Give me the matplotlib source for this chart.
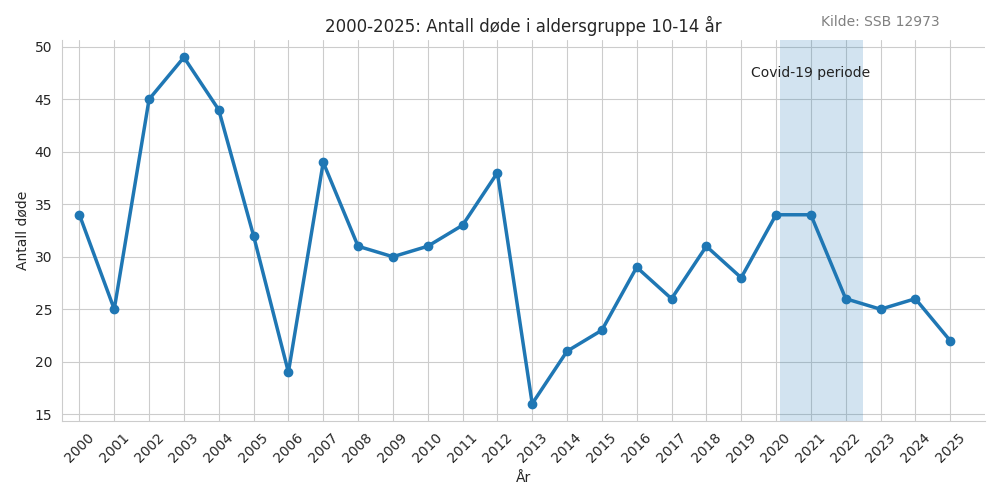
import matplotlib
matplotlib.use("Agg")
import matplotlib.pyplot as plt
import seaborn as sns

years = list(range(2000, 2026))
deaths = [34, 25, 45, 49, 44, 32, 19, 39, 31, 30, 31, 33, 38, 16, 21, 23, 29, 26, 31, 28, 34, 34, 26, 25, 26, 22]
covid_start, covid_end = 2020.1, 2022.5

sns.set_style("whitegrid")
fig = plt.figure(figsize=(10, 5), dpi=100)
ax = fig.add_axes([0.062, 0.158, 0.923, 0.762])

ax.plot(years, deaths, marker="o", color="#1f77b4", linewidth=2.5, markersize=6)
ax.axvspan(covid_start, covid_end, color="#1f77b4", alpha=0.2, linewidth=0)
ax.text(2021, 47.5, "Covid-19 periode", ha="center", va="center", fontsize=10, color="#222222")

ax.set_xlim(1999.5, 2026)
ax.set_xticks(years)
ax.set_xticklabels([str(y) for y in years], rotation=45)
ax.set_title("2000-2025: Antall døde i aldersgruppe 10-14 år", fontsize=12)
ax.set_xlabel("År")
ax.set_ylabel("Antall døde")
sns.despine(ax=ax)

fig.text(0.88, 0.955, "Kilde: SSB 12973", ha="center", va="center", fontsize=10, color="gray")

fig.savefig("out.png", dpi=100)
